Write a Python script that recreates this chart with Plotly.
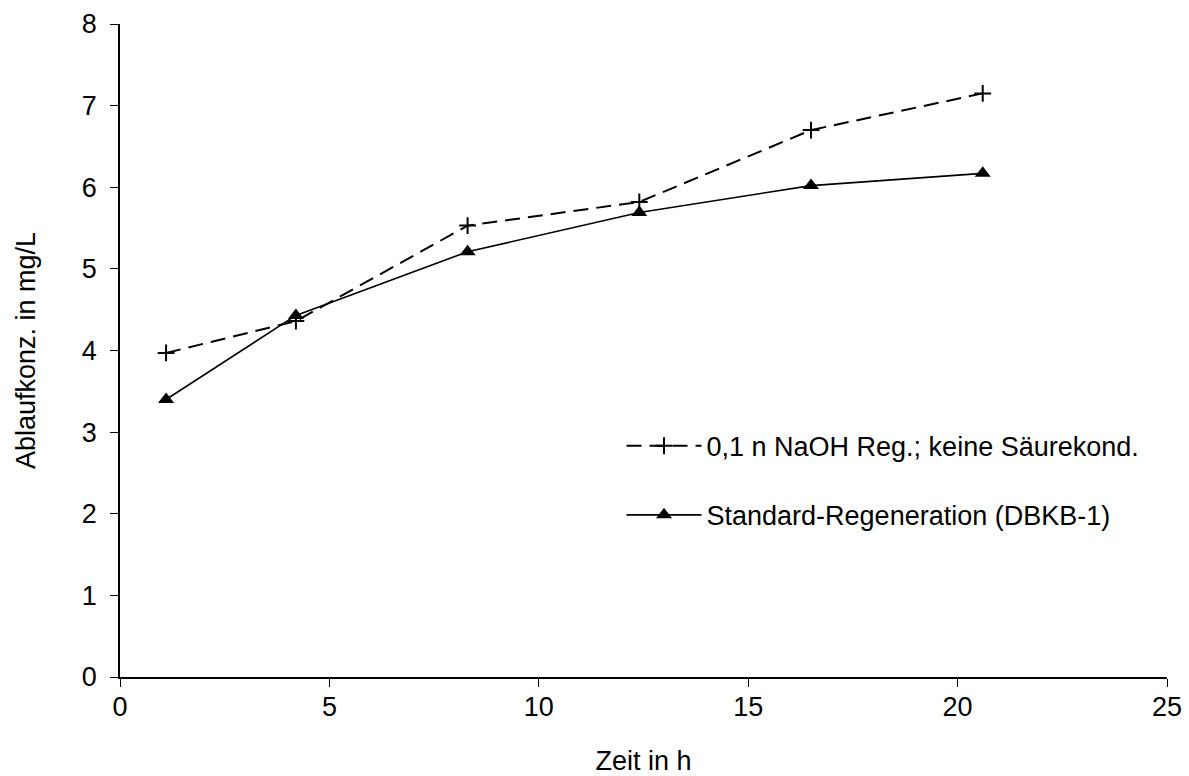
import plotly.graph_objects as go

zeit = [1.1, 4.2, 8.3, 12.4, 16.5, 20.6]
naoh = [3.97, 4.36, 5.53, 5.82, 6.70, 7.15]
standard = [3.40, 4.43, 5.21, 5.69, 6.02, 6.17]

name_naoh = "0,1 n NaOH Reg.; keine Säurekond."
name_std = "Standard-Regeneration (DBKB-1)"

fig = go.Figure()
fig.add_trace(go.Scatter(
    x=zeit, y=naoh, name=name_naoh, mode="lines+markers", legendgroup="a",
    line=dict(color="black", width=2, dash="15px,8px"),
    marker=dict(symbol="cross-thin", size=12, color="black",
                line=dict(color="black", width=2)),
))
fig.add_trace(go.Scatter(
    x=zeit, y=standard, name=name_std, mode="lines+markers", legendgroup="b",
    line=dict(color="black", width=1.6),
    marker=dict(symbol="triangle-up", size=14, color="black"),
))

font = dict(family="Liberation Sans, Arial, sans-serif", size=27, color="black")
fig.update_layout(
    width=1189, height=776,
    margin=dict(l=120, r=22, t=24, b=99),
    plot_bgcolor="white", paper_bgcolor="white",
    font=font,
    showlegend=True,
    legend=dict(x=0.479, y=0.391, xanchor="left", yanchor="top",
                bgcolor="rgba(0,0,0,0)", font=font,
                traceorder="grouped", tracegroupgap=31, itemwidth=75),
)
fig.update_xaxes(
    range=[0, 25], tickvals=[0, 5, 10, 15, 20, 25], showgrid=False, zeroline=False,
    showline=True, linecolor="black", linewidth=1.5, automargin=False,
    ticks="outside", ticklen=8, tickcolor="black", tickwidth=1.2,
    ticklabelstandoff=-3,
    title=dict(text="Zeit in h", font=font, standoff=33),
)
fig.update_yaxes(
    range=[0, 8], tickvals=list(range(0, 9)), showgrid=False, zeroline=False,
    showline=True, linecolor="black", linewidth=1.5, automargin=False,
    ticks="outside", ticklen=8, tickcolor="black", tickwidth=1.2,
    ticklabelstandoff=8,
    title=dict(text="Ablaufkonz. in mg/L", font=font, standoff=38),
)

fig.write_html("out.html")
